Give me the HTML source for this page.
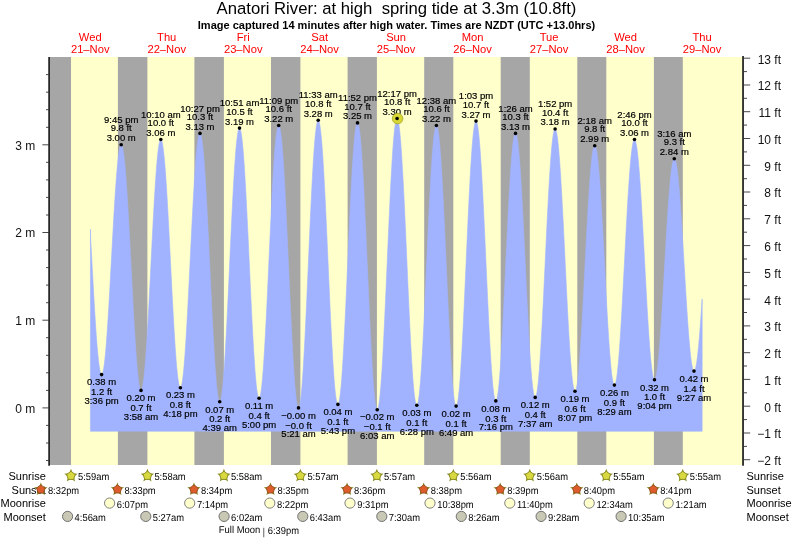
<!DOCTYPE html><html><head><meta charset="utf-8"><title>Tide</title>
<style>html,body{margin:0;padding:0;background:#fff;}svg{display:block;}text{font-family:"Liberation Sans",sans-serif;}</style></head><body>
<svg width="793" height="539" viewBox="0 0 793 539">
<rect x="0" y="0" width="793" height="539" fill="#ffffff"/>
<defs><filter id="idf" x="0" y="0" width="793" height="539" filterUnits="userSpaceOnUse" color-interpolation-filters="sRGB"><feOffset dx="0" dy="0"/></filter></defs>
<g filter="url(#idf)">
<rect x="50" y="57" width="692.5" height="408" fill="#a6a6a6"/>
<rect x="71.0" y="57" width="46.9" height="408" fill="#ffffcc"/>
<rect x="147.4" y="57" width="47.0" height="408" fill="#ffffcc"/>
<rect x="223.9" y="57" width="47.1" height="408" fill="#ffffcc"/>
<rect x="300.4" y="57" width="47.2" height="408" fill="#ffffcc"/>
<rect x="376.9" y="57" width="47.3" height="408" fill="#ffffcc"/>
<rect x="453.3" y="57" width="47.4" height="408" fill="#ffffcc"/>
<rect x="529.8" y="57" width="47.5" height="408" fill="#ffffcc"/>
<rect x="606.3" y="57" width="47.6" height="408" fill="#ffffcc"/>
<rect x="682.8" y="57" width="59.7" height="408" fill="#ffffcc"/>
<path d="M90.45,431.2 L90.45,229.27 L90.59,237.22 L91.02,245.26 L91.46,253.35 L91.90,261.46 L92.34,269.54 L92.77,277.57 L93.21,285.49 L93.65,293.28 L94.08,300.90 L94.52,308.30 L94.96,315.47 L95.40,322.35 L95.83,328.92 L96.27,335.15 L96.71,341.01 L97.14,346.48 L97.58,351.51 L98.02,356.10 L98.46,360.22 L98.89,363.85 L99.33,366.97 L99.77,369.57 L100.20,371.64 L100.64,373.17 L101.08,374.14 L101.52,374.56 L101.95,374.42 L102.39,373.71 L102.83,372.45 L103.26,370.63 L103.70,368.27 L104.14,365.38 L104.58,361.97 L105.01,358.05 L105.45,353.66 L105.89,348.80 L106.32,343.50 L106.76,337.80 L107.20,331.71 L107.64,325.27 L108.07,318.50 L108.51,311.45 L108.95,304.15 L109.38,296.62 L109.82,288.92 L110.26,281.07 L110.70,273.11 L111.13,265.09 L111.57,257.05 L112.01,249.01 L112.44,241.03 L112.88,233.14 L113.32,225.38 L113.76,217.79 L114.19,210.41 L114.63,203.26 L115.07,196.40 L115.50,189.84 L115.94,183.63 L116.38,177.79 L116.82,172.35 L117.25,167.34 L117.69,162.78 L118.13,158.70 L118.56,155.11 L119.00,152.04 L119.44,149.49 L119.88,147.49 L120.31,146.03 L120.75,145.14 L121.19,144.80 L121.62,145.04 L122.06,145.87 L122.50,147.28 L122.94,149.27 L123.37,151.83 L123.81,154.94 L124.25,158.60 L124.68,162.78 L125.12,167.46 L125.56,172.62 L126.00,178.24 L126.43,184.28 L126.87,190.73 L127.31,197.54 L127.74,204.70 L128.18,212.15 L128.62,219.87 L129.06,227.82 L129.49,235.96 L129.93,244.25 L130.37,252.65 L130.80,261.13 L131.24,269.63 L131.68,278.13 L132.12,286.58 L132.55,294.93 L132.99,303.15 L133.43,311.21 L133.86,319.05 L134.30,326.64 L134.74,333.96 L135.18,340.95 L135.61,347.59 L136.05,353.85 L136.49,359.69 L136.92,365.09 L137.36,370.02 L137.80,374.47 L138.24,378.39 L138.67,381.79 L139.11,384.63 L139.55,386.92 L139.98,388.63 L140.42,389.76 L140.86,390.31 L141.30,390.26 L141.73,389.61 L142.17,388.36 L142.61,386.51 L143.04,384.07 L143.48,381.06 L143.92,377.49 L144.36,373.38 L144.79,368.74 L145.23,363.60 L145.67,357.99 L146.10,351.92 L146.54,345.44 L146.98,338.57 L147.42,331.34 L147.85,323.79 L148.29,315.96 L148.73,307.88 L149.16,299.59 L149.60,291.14 L150.04,282.56 L150.48,273.90 L150.91,265.19 L151.35,256.48 L151.79,247.81 L152.22,239.23 L152.66,230.77 L153.10,222.47 L153.54,214.38 L153.97,206.54 L154.41,198.97 L154.85,191.72 L155.28,184.83 L155.72,178.33 L156.16,172.24 L156.60,166.60 L157.03,161.43 L157.47,156.77 L157.91,152.62 L158.34,149.02 L158.78,145.98 L159.22,143.51 L159.66,141.63 L160.09,140.34 L160.53,139.66 L160.97,139.58 L161.40,140.11 L161.84,141.25 L162.28,143.00 L162.72,145.33 L163.15,148.26 L163.59,151.75 L164.03,155.79 L164.46,160.37 L164.90,165.45 L165.34,171.02 L165.78,177.05 L166.21,183.50 L166.65,190.35 L167.09,197.56 L167.52,205.10 L167.96,212.92 L168.40,220.99 L168.84,229.28 L169.27,237.73 L169.71,246.32 L170.15,254.98 L170.58,263.69 L171.02,272.40 L171.46,281.07 L171.90,289.65 L172.33,298.10 L172.77,306.39 L173.21,314.46 L173.64,322.28 L174.08,329.81 L174.52,337.02 L174.96,343.86 L175.39,350.31 L175.83,356.33 L176.27,361.89 L176.70,366.97 L177.14,371.53 L177.58,375.57 L178.02,379.05 L178.45,381.97 L178.89,384.30 L179.33,386.04 L179.76,387.17 L180.20,387.69 L180.64,387.60 L181.08,386.88 L181.51,385.55 L181.95,383.60 L182.39,381.05 L182.82,377.91 L183.26,374.19 L183.70,369.92 L184.14,365.11 L184.57,359.78 L185.01,353.97 L185.45,347.70 L185.88,341.01 L186.32,333.91 L186.76,326.46 L187.20,318.69 L187.63,310.63 L188.07,302.32 L188.51,293.81 L188.94,285.14 L189.38,276.35 L189.82,267.47 L190.26,258.57 L190.69,249.67 L191.13,240.83 L191.57,232.09 L192.00,223.48 L192.44,215.06 L192.88,206.86 L193.32,198.92 L193.75,191.29 L194.19,183.99 L194.63,177.07 L195.06,170.56 L195.50,164.50 L195.94,158.90 L196.38,153.80 L196.81,149.23 L197.25,145.20 L197.69,141.74 L198.12,138.86 L198.56,136.58 L199.00,134.90 L199.44,133.85 L199.87,133.41 L200.31,133.61 L200.75,134.45 L201.18,135.93 L201.62,138.06 L202.06,140.80 L202.50,144.16 L202.93,148.11 L203.37,152.64 L203.81,157.73 L204.24,163.34 L204.68,169.46 L205.12,176.05 L205.56,183.09 L205.99,190.53 L206.43,198.34 L206.87,206.49 L207.30,214.93 L207.74,223.63 L208.18,232.54 L208.62,241.62 L209.05,250.82 L209.49,260.10 L209.93,269.43 L210.36,278.74 L210.80,287.99 L211.24,297.15 L211.68,306.17 L212.11,315.00 L212.55,323.60 L212.99,331.93 L213.42,339.95 L213.86,347.62 L214.30,354.91 L214.74,361.77 L215.17,368.18 L215.61,374.10 L216.05,379.51 L216.48,384.38 L216.92,388.68 L217.36,392.40 L217.80,395.52 L218.23,398.02 L218.67,399.89 L219.11,401.12 L219.54,401.71 L219.98,401.64 L220.42,400.92 L220.86,399.54 L221.29,397.52 L221.73,394.85 L222.17,391.55 L222.60,387.65 L223.04,383.15 L223.48,378.08 L223.92,372.47 L224.35,366.33 L224.79,359.71 L225.23,352.63 L225.66,345.12 L226.10,337.23 L226.54,328.99 L226.98,320.44 L227.41,311.63 L227.85,302.59 L228.29,293.36 L228.72,284.00 L229.16,274.55 L229.60,265.05 L230.04,255.55 L230.47,246.09 L230.91,236.73 L231.35,227.50 L231.78,218.46 L232.22,209.63 L232.66,201.08 L233.10,192.83 L233.53,184.93 L233.97,177.42 L234.41,170.33 L234.84,163.70 L235.28,157.55 L235.72,151.93 L236.16,146.85 L236.59,142.34 L237.03,138.42 L237.47,135.11 L237.90,132.43 L238.34,130.39 L238.78,129.00 L239.22,128.26 L239.65,128.19 L240.09,128.77 L240.53,130.02 L240.96,131.92 L241.40,134.46 L241.84,137.64 L242.28,141.43 L242.71,145.81 L243.15,150.78 L243.59,156.29 L244.02,162.33 L244.46,168.87 L244.90,175.87 L245.34,183.29 L245.77,191.11 L246.21,199.28 L246.65,207.77 L247.08,216.52 L247.52,225.51 L247.96,234.68 L248.40,243.99 L248.83,253.40 L249.27,262.85 L249.71,272.30 L250.14,281.71 L250.58,291.03 L251.02,300.22 L251.46,309.22 L251.89,317.99 L252.33,326.50 L252.77,334.70 L253.20,342.54 L253.64,350.00 L254.08,357.03 L254.52,363.60 L254.95,369.67 L255.39,375.23 L255.83,380.23 L256.26,384.66 L256.70,388.50 L257.14,391.72 L257.58,394.31 L258.01,396.26 L258.45,397.55 L258.89,398.18 L259.32,398.15 L259.76,397.46 L260.20,396.10 L260.64,394.08 L261.07,391.41 L261.51,388.10 L261.95,384.18 L262.38,379.66 L262.82,374.56 L263.26,368.90 L263.70,362.72 L264.13,356.05 L264.57,348.91 L265.01,341.35 L265.44,333.40 L265.88,325.10 L266.32,316.48 L266.76,307.60 L267.19,298.50 L267.63,289.21 L268.07,279.79 L268.50,270.28 L268.94,260.74 L269.38,251.19 L269.82,241.70 L270.25,232.31 L270.69,223.06 L271.13,214.01 L271.56,205.19 L272.00,196.64 L272.44,188.42 L272.88,180.56 L273.31,173.09 L273.75,166.07 L274.19,159.51 L274.62,153.45 L275.06,147.93 L275.50,142.96 L275.94,138.58 L276.37,134.81 L276.81,131.65 L277.25,129.14 L277.68,127.28 L278.12,126.07 L278.56,125.54 L279.00,125.67 L279.43,126.49 L279.87,127.98 L280.31,130.14 L280.74,132.96 L281.18,136.43 L281.62,140.53 L282.06,145.23 L282.49,150.52 L282.93,156.37 L283.37,162.76 L283.80,169.65 L284.24,177.00 L284.68,184.79 L285.12,192.97 L285.55,201.51 L285.99,210.36 L286.43,219.49 L286.86,228.84 L287.30,238.38 L287.74,248.05 L288.18,257.82 L288.61,267.62 L289.05,277.42 L289.49,287.17 L289.92,296.83 L290.36,306.33 L290.80,315.65 L291.24,324.72 L291.67,333.52 L292.11,342.00 L292.55,350.11 L292.98,357.82 L293.42,365.09 L293.86,371.88 L294.30,378.17 L294.73,383.92 L295.17,389.10 L295.61,393.69 L296.04,397.67 L296.48,401.02 L296.92,403.72 L297.36,405.76 L297.79,407.12 L298.23,407.81 L298.67,407.82 L299.10,407.13 L299.54,405.75 L299.98,403.69 L300.42,400.96 L300.85,397.56 L301.29,393.52 L301.73,388.86 L302.16,383.59 L302.60,377.74 L303.04,371.35 L303.48,364.44 L303.91,357.04 L304.35,349.20 L304.79,340.95 L305.22,332.32 L305.66,323.36 L306.10,314.12 L306.54,304.64 L306.97,294.96 L307.41,285.13 L307.85,275.20 L308.28,265.22 L308.72,255.23 L309.16,245.28 L309.60,235.43 L310.03,225.71 L310.47,216.18 L310.91,206.87 L311.34,197.85 L311.78,189.14 L312.22,180.80 L312.66,172.86 L313.09,165.36 L313.53,158.33 L313.97,151.82 L314.40,145.85 L314.84,140.44 L315.28,135.64 L315.72,131.45 L316.15,127.91 L316.59,125.02 L317.03,122.80 L317.46,121.27 L317.90,120.42 L318.34,120.27 L318.78,120.81 L319.21,122.04 L319.65,123.96 L320.09,126.55 L320.52,129.81 L320.96,133.71 L321.40,138.23 L321.84,143.37 L322.27,149.08 L322.71,155.35 L323.15,162.14 L323.58,169.41 L324.02,177.14 L324.46,185.29 L324.90,193.81 L325.33,202.67 L325.77,211.82 L326.21,221.21 L326.64,230.80 L327.08,240.55 L327.52,250.41 L327.96,260.32 L328.39,270.24 L328.83,280.12 L329.27,289.92 L329.70,299.58 L330.14,309.06 L330.58,318.32 L331.02,327.29 L331.45,335.96 L331.89,344.26 L332.33,352.16 L332.76,359.62 L333.20,366.61 L333.64,373.09 L334.08,379.03 L334.51,384.40 L334.95,389.18 L335.39,393.34 L335.82,396.85 L336.26,399.71 L336.70,401.90 L337.14,403.41 L337.57,404.23 L338.01,404.36 L338.45,403.79 L338.88,402.54 L339.32,400.61 L339.76,398.01 L340.20,394.74 L340.63,390.84 L341.07,386.31 L341.51,381.17 L341.94,375.46 L342.38,369.21 L342.82,362.43 L343.26,355.17 L343.69,347.46 L344.13,339.34 L344.57,330.85 L345.00,322.02 L345.44,312.92 L345.88,303.57 L346.32,294.02 L346.75,284.32 L347.19,274.53 L347.63,264.68 L348.06,254.82 L348.50,245.01 L348.94,235.29 L349.38,225.71 L349.81,216.31 L350.25,207.15 L350.69,198.26 L351.12,189.70 L351.56,181.49 L352.00,173.69 L352.44,166.34 L352.87,159.45 L353.31,153.08 L353.75,147.26 L354.18,142.00 L354.62,137.34 L355.06,133.30 L355.50,129.90 L355.93,127.15 L356.37,125.08 L356.81,123.68 L357.24,122.97 L357.68,122.95 L358.12,123.63 L358.56,125.00 L358.99,127.05 L359.43,129.78 L359.87,133.17 L360.30,137.21 L360.74,141.88 L361.18,147.14 L361.62,152.99 L362.05,159.38 L362.49,166.30 L362.93,173.70 L363.36,181.55 L363.80,189.81 L364.24,198.44 L364.68,207.40 L365.11,216.65 L365.55,226.13 L365.99,235.81 L366.42,245.64 L366.86,255.57 L367.30,265.55 L367.74,275.54 L368.17,285.48 L368.61,295.32 L369.05,305.03 L369.48,314.55 L369.92,323.83 L370.36,332.83 L370.80,341.51 L371.23,349.83 L371.67,357.74 L372.11,365.21 L372.54,372.19 L372.98,378.66 L373.42,384.59 L373.86,389.94 L374.29,394.69 L374.73,398.82 L375.17,402.31 L375.60,405.13 L376.04,407.28 L376.48,408.75 L376.92,409.52 L377.35,409.60 L377.79,408.99 L378.23,407.68 L378.66,405.69 L379.10,403.02 L379.54,399.68 L379.98,395.70 L380.41,391.09 L380.85,385.88 L381.29,380.08 L381.72,373.73 L382.16,366.85 L382.60,359.49 L383.04,351.67 L383.47,343.43 L383.91,334.81 L384.35,325.85 L384.78,316.60 L385.22,307.09 L385.66,297.39 L386.10,287.52 L386.53,277.54 L386.97,267.50 L387.41,257.44 L387.84,247.41 L388.28,237.46 L388.72,227.64 L389.16,217.99 L389.59,208.56 L390.03,199.40 L390.47,190.55 L390.90,182.04 L391.34,173.93 L391.78,166.25 L392.22,159.04 L392.65,152.33 L393.09,146.15 L393.53,140.54 L393.96,135.51 L394.40,131.10 L394.84,127.32 L395.28,124.20 L395.71,121.75 L396.15,119.97 L396.59,118.88 L397.02,118.49 L397.46,118.79 L397.90,119.79 L398.34,121.48 L398.77,123.84 L399.21,126.88 L399.65,130.57 L400.08,134.90 L400.52,139.85 L400.96,145.39 L401.40,151.49 L401.83,158.13 L402.27,165.27 L402.71,172.89 L403.14,180.93 L403.58,189.37 L404.02,198.15 L404.46,207.25 L404.89,216.61 L405.33,226.20 L405.77,235.95 L406.20,245.83 L406.64,255.79 L407.08,265.78 L407.52,275.75 L407.95,285.65 L408.39,295.44 L408.83,305.07 L409.26,314.48 L409.70,323.64 L410.14,332.50 L410.58,341.02 L411.01,349.15 L411.45,356.86 L411.89,364.11 L412.32,370.86 L412.76,377.08 L413.20,382.75 L413.64,387.83 L414.07,392.29 L414.51,396.13 L414.95,399.31 L415.38,401.82 L415.82,403.66 L416.26,404.81 L416.70,405.26 L417.13,405.02 L417.57,404.11 L418.01,402.51 L418.44,400.25 L418.88,397.32 L419.32,393.76 L419.76,389.57 L420.19,384.77 L420.63,379.39 L421.07,373.45 L421.50,366.98 L421.94,360.02 L422.38,352.60 L422.82,344.75 L423.25,336.52 L423.69,327.94 L424.13,319.05 L424.56,309.90 L425.00,300.54 L425.44,291.00 L425.88,281.34 L426.31,271.60 L426.75,261.82 L427.19,252.07 L427.62,242.38 L428.06,232.81 L428.50,223.39 L428.94,214.18 L429.37,205.22 L429.81,196.55 L430.25,188.21 L430.68,180.26 L431.12,172.72 L431.56,165.63 L432.00,159.03 L432.43,152.94 L432.87,147.41 L433.31,142.45 L433.74,138.09 L434.18,134.35 L434.62,131.26 L435.06,128.81 L435.49,127.03 L435.93,125.93 L436.37,125.51 L436.80,125.77 L437.24,126.71 L437.68,128.33 L438.12,130.61 L438.55,133.55 L438.99,137.13 L439.43,141.33 L439.86,146.14 L440.30,151.53 L440.74,157.48 L441.18,163.95 L441.61,170.91 L442.05,178.34 L442.49,186.19 L442.92,194.43 L443.36,203.01 L443.80,211.90 L444.24,221.05 L444.67,230.41 L445.11,239.95 L445.55,249.62 L445.98,259.36 L446.42,269.14 L446.86,278.89 L447.30,288.59 L447.73,298.17 L448.17,307.60 L448.61,316.83 L449.04,325.80 L449.48,334.49 L449.92,342.84 L450.36,350.82 L450.79,358.39 L451.23,365.51 L451.67,372.14 L452.10,378.26 L452.54,383.83 L452.98,388.83 L453.42,393.23 L453.85,397.02 L454.29,400.17 L454.73,402.66 L455.16,404.49 L455.60,405.65 L456.04,406.13 L456.48,405.93 L456.91,405.05 L457.35,403.49 L457.79,401.27 L458.22,398.39 L458.66,394.87 L459.10,390.71 L459.54,385.96 L459.97,380.61 L460.41,374.71 L460.85,368.28 L461.28,361.35 L461.72,353.95 L462.16,346.12 L462.60,337.90 L463.03,329.32 L463.47,320.43 L463.91,311.27 L464.34,301.88 L464.78,292.30 L465.22,282.59 L465.66,272.79 L466.09,262.95 L466.53,253.11 L466.97,243.32 L467.40,233.62 L467.84,224.07 L468.28,214.71 L468.72,205.59 L469.15,196.73 L469.59,188.20 L470.03,180.03 L470.46,172.26 L470.90,164.93 L471.34,158.06 L471.78,151.70 L472.21,145.88 L472.65,140.62 L473.09,135.94 L473.52,131.87 L473.96,128.44 L474.40,125.65 L474.84,123.52 L475.27,122.05 L475.71,121.27 L476.15,121.16 L476.58,121.73 L477.02,122.96 L477.46,124.86 L477.90,127.41 L478.33,130.60 L478.77,134.42 L479.21,138.85 L479.64,143.86 L480.08,149.44 L480.52,155.55 L480.96,162.17 L481.39,169.26 L481.83,176.79 L482.27,184.73 L482.70,193.03 L483.14,201.66 L483.58,210.58 L484.02,219.73 L484.45,229.09 L484.89,238.60 L485.33,248.21 L485.76,257.89 L486.20,267.58 L486.64,277.24 L487.08,286.82 L487.51,296.28 L487.95,305.57 L488.39,314.65 L488.82,323.46 L489.26,331.98 L489.70,340.16 L490.14,347.95 L490.57,355.33 L491.01,362.26 L491.45,368.70 L491.88,374.62 L492.32,380.00 L492.76,384.81 L493.20,389.02 L493.63,392.61 L494.07,395.58 L494.51,397.90 L494.94,399.56 L495.38,400.56 L495.82,400.88 L496.26,400.55 L496.69,399.56 L497.13,397.93 L497.57,395.66 L498.00,392.76 L498.44,389.25 L498.88,385.14 L499.32,380.46 L499.75,375.23 L500.19,369.46 L500.63,363.20 L501.06,356.47 L501.50,349.31 L501.94,341.74 L502.38,333.81 L502.81,325.55 L503.25,317.01 L503.69,308.22 L504.12,299.24 L504.56,290.10 L505.00,280.84 L505.44,271.52 L505.87,262.18 L506.31,252.86 L506.75,243.61 L507.18,234.48 L507.62,225.50 L508.06,216.73 L508.50,208.21 L508.93,199.97 L509.37,192.06 L509.81,184.52 L510.24,177.38 L510.68,170.68 L511.12,164.44 L511.56,158.71 L511.99,153.51 L512.43,148.86 L512.87,144.80 L513.30,141.32 L513.74,138.46 L514.18,136.23 L514.62,134.64 L515.05,133.69 L515.49,133.40 L515.93,133.75 L516.36,134.74 L516.80,136.37 L517.24,138.62 L517.68,141.48 L518.11,144.95 L518.55,149.00 L518.99,153.62 L519.42,158.78 L519.86,164.45 L520.30,170.62 L520.74,177.24 L521.17,184.30 L521.61,191.75 L522.05,199.55 L522.48,207.67 L522.92,216.08 L523.36,224.72 L523.80,233.56 L524.23,242.56 L524.67,251.67 L525.11,260.84 L525.54,270.03 L525.98,279.21 L526.42,288.31 L526.86,297.30 L527.29,306.14 L527.73,314.79 L528.17,323.19 L528.60,331.31 L529.04,339.11 L529.48,346.55 L529.92,353.60 L530.35,360.22 L530.79,366.38 L531.23,372.06 L531.66,377.21 L532.10,381.82 L532.54,385.87 L532.98,389.33 L533.41,392.19 L533.85,394.43 L534.29,396.05 L534.72,397.03 L535.16,397.38 L535.60,397.08 L536.04,396.15 L536.47,394.59 L536.91,392.40 L537.35,389.60 L537.78,386.20 L538.22,382.22 L538.66,377.67 L539.10,372.57 L539.53,366.96 L539.97,360.85 L540.41,354.28 L540.84,347.28 L541.28,339.88 L541.72,332.11 L542.16,324.02 L542.59,315.64 L543.03,307.00 L543.47,298.16 L543.90,289.16 L544.34,280.03 L544.78,270.82 L545.22,261.57 L545.65,252.34 L546.09,243.15 L546.53,234.06 L546.96,225.10 L547.40,216.33 L547.84,207.78 L548.28,199.50 L548.71,191.51 L549.15,183.87 L549.59,176.61 L550.02,169.75 L550.46,163.34 L550.90,157.40 L551.34,151.97 L551.77,147.06 L552.21,142.71 L552.65,138.93 L553.08,135.74 L553.52,133.15 L553.96,131.18 L554.40,129.84 L554.83,129.13 L555.27,129.06 L555.71,129.61 L556.14,130.79 L556.58,132.58 L557.02,134.97 L557.46,137.96 L557.89,141.53 L558.33,145.66 L558.77,150.33 L559.20,155.53 L559.64,161.22 L560.08,167.39 L560.52,173.99 L560.95,181.01 L561.39,188.39 L561.83,196.12 L562.26,204.16 L562.70,212.46 L563.14,220.99 L563.58,229.70 L564.01,238.55 L564.45,247.51 L564.89,256.53 L565.32,265.57 L565.76,274.58 L566.20,283.52 L566.64,292.35 L567.07,301.03 L567.51,309.51 L567.95,317.76 L568.38,325.74 L568.82,333.40 L569.26,340.71 L569.70,347.65 L570.13,354.16 L570.57,360.23 L571.01,365.83 L571.44,370.92 L571.88,375.48 L572.32,379.50 L572.76,382.95 L573.19,385.82 L573.63,388.09 L574.07,389.75 L574.50,390.80 L574.94,391.23 L575.38,391.04 L575.82,390.26 L576.25,388.88 L576.69,386.92 L577.13,384.39 L577.56,381.29 L578.00,377.65 L578.44,373.47 L578.88,368.79 L579.31,363.62 L579.75,357.99 L580.19,351.92 L580.62,345.45 L581.06,338.60 L581.50,331.42 L581.94,323.93 L582.37,316.17 L582.81,308.17 L583.25,299.99 L583.68,291.65 L584.12,283.20 L584.56,274.68 L585.00,266.13 L585.43,257.58 L585.87,249.10 L586.31,240.70 L586.74,232.44 L587.18,224.36 L587.62,216.49 L588.06,208.87 L588.49,201.54 L588.93,194.53 L589.37,187.89 L589.80,181.63 L590.24,175.80 L590.68,170.42 L591.12,165.51 L591.55,161.10 L591.99,157.21 L592.43,153.86 L592.86,151.07 L593.30,148.85 L593.74,147.21 L594.18,146.16 L594.61,145.70 L595.05,145.83 L595.49,146.54 L595.92,147.84 L596.36,149.70 L596.80,152.12 L597.24,155.09 L597.67,158.60 L598.11,162.62 L598.55,167.15 L598.98,172.15 L599.42,177.60 L599.86,183.48 L600.30,189.76 L600.73,196.40 L601.17,203.38 L601.61,210.66 L602.04,218.21 L602.48,225.98 L602.92,233.95 L603.36,242.06 L603.79,250.29 L604.23,258.60 L604.67,266.94 L605.10,275.27 L605.54,283.55 L605.98,291.74 L606.42,299.81 L606.85,307.71 L607.29,315.40 L607.73,322.85 L608.16,330.02 L608.60,336.88 L609.04,343.39 L609.48,349.53 L609.91,355.25 L610.35,360.54 L610.79,365.37 L611.22,369.71 L611.66,373.54 L612.10,376.85 L612.54,379.62 L612.97,381.84 L613.41,383.49 L613.85,384.56 L614.28,385.06 L614.72,384.98 L615.16,384.32 L615.60,383.09 L616.03,381.29 L616.47,378.93 L616.91,376.02 L617.34,372.58 L617.78,368.62 L618.22,364.16 L618.66,359.22 L619.09,353.83 L619.53,348.01 L619.97,341.78 L620.40,335.18 L620.84,328.24 L621.28,320.99 L621.72,313.46 L622.15,305.69 L622.59,297.72 L623.03,289.58 L623.46,281.32 L623.90,272.96 L624.34,264.55 L624.78,256.14 L625.21,247.75 L625.65,239.43 L626.09,231.22 L626.52,223.16 L626.96,215.27 L627.40,207.61 L627.84,200.21 L628.27,193.10 L628.71,186.32 L629.15,179.89 L629.58,173.85 L630.02,168.22 L630.46,163.04 L630.90,158.32 L631.33,154.09 L631.77,150.38 L632.21,147.18 L632.64,144.53 L633.08,142.43 L633.52,140.90 L633.96,139.94 L634.39,139.55 L634.83,139.73 L635.27,140.47 L635.70,141.78 L636.14,143.63 L636.58,146.02 L637.02,148.95 L637.45,152.39 L637.89,156.34 L638.33,160.77 L638.76,165.66 L639.20,170.99 L639.64,176.74 L640.08,182.87 L640.51,189.37 L640.95,196.19 L641.39,203.31 L641.82,210.69 L642.26,218.30 L642.70,226.10 L643.14,234.07 L643.57,242.15 L644.01,250.31 L644.45,258.52 L644.88,266.73 L645.32,274.91 L645.76,283.02 L646.20,291.02 L646.63,298.87 L647.07,306.54 L647.51,313.99 L647.94,321.19 L648.38,328.10 L648.82,334.69 L649.26,340.93 L649.69,346.79 L650.13,352.24 L650.57,357.26 L651.00,361.82 L651.44,365.91 L651.88,369.49 L652.32,372.57 L652.75,375.12 L653.19,377.13 L653.63,378.59 L654.06,379.49 L654.50,379.83 L654.94,379.63 L655.38,378.89 L655.81,377.62 L656.25,375.83 L656.69,373.52 L657.12,370.71 L657.56,367.41 L658.00,363.64 L658.44,359.42 L658.87,354.76 L659.31,349.68 L659.75,344.22 L660.18,338.40 L660.62,332.24 L661.06,325.78 L661.50,319.05 L661.93,312.08 L662.37,304.90 L662.81,297.55 L663.24,290.06 L663.68,282.47 L664.12,274.82 L664.56,267.15 L664.99,259.48 L665.43,251.86 L665.87,244.33 L666.30,236.92 L666.74,229.66 L667.18,222.59 L667.62,215.75 L668.05,209.17 L668.49,202.88 L668.93,196.91 L669.36,191.29 L669.80,186.05 L670.24,181.21 L670.68,176.79 L671.11,172.82 L671.55,169.32 L671.99,166.30 L672.42,163.77 L672.86,161.76 L673.30,160.26 L673.74,159.30 L674.17,158.86 L674.61,158.95 L675.05,159.56 L675.48,160.68 L675.92,162.30 L676.36,164.43 L676.80,167.04 L677.23,170.12 L677.67,173.67 L678.11,177.66 L678.54,182.07 L678.98,186.89 L679.42,192.08 L679.86,197.63 L680.29,203.50 L680.73,209.68 L681.17,216.12 L681.60,222.79 L682.04,229.68 L682.48,236.73 L682.92,243.92 L683.35,251.21 L683.79,258.57 L684.23,265.96 L684.66,273.35 L685.10,280.69 L685.54,287.96 L685.98,295.12 L686.41,302.13 L686.85,308.96 L687.29,315.57 L687.72,321.94 L688.16,328.04 L688.60,333.82 L689.04,339.28 L689.47,344.37 L689.91,349.08 L690.35,353.38 L690.78,357.25 L691.22,360.67 L691.66,363.63 L692.10,366.10 L692.53,368.09 L692.97,369.58 L693.41,370.56 L693.84,371.02 L694.28,370.98 L694.72,370.46 L695.16,369.46 L695.59,368.00 L696.03,366.07 L696.47,363.68 L696.90,360.85 L697.34,357.60 L697.78,353.92 L698.22,349.85 L698.65,345.40 L699.09,340.60 L699.53,335.46 L699.96,330.00 L700.40,324.27 L700.84,318.27 L701.28,312.04 L701.71,305.61 L702.15,299.01 L702.15,431.2 Z" fill="#a1b3ff" stroke="#a1b3ff" stroke-width="0.6" stroke-linejoin="round"/>
<g stroke="#000" stroke-width="1.5">
<line x1="49.1" y1="57" x2="49.1" y2="465.7"/>
<line x1="743.05" y1="56" x2="743.05" y2="465.7"/>
</g>
<g stroke="#333" stroke-width="0.9">
<line x1="46" y1="460.5" x2="49" y2="460.5"/>
<line x1="46" y1="443.0" x2="49" y2="443.0"/>
<line x1="46" y1="425.4" x2="49" y2="425.4"/>
<line x1="42.4" y1="407.9" x2="49" y2="407.9"/>
<line x1="46" y1="390.4" x2="49" y2="390.4"/>
<line x1="46" y1="372.8" x2="49" y2="372.8"/>
<line x1="46" y1="355.3" x2="49" y2="355.3"/>
<line x1="46" y1="337.7" x2="49" y2="337.7"/>
<line x1="42.4" y1="320.2" x2="49" y2="320.2"/>
<line x1="46" y1="302.7" x2="49" y2="302.7"/>
<line x1="46" y1="285.1" x2="49" y2="285.1"/>
<line x1="46" y1="267.6" x2="49" y2="267.6"/>
<line x1="46" y1="250.0" x2="49" y2="250.0"/>
<line x1="42.4" y1="232.5" x2="49" y2="232.5"/>
<line x1="46" y1="215.0" x2="49" y2="215.0"/>
<line x1="46" y1="197.4" x2="49" y2="197.4"/>
<line x1="46" y1="179.9" x2="49" y2="179.9"/>
<line x1="46" y1="162.3" x2="49" y2="162.3"/>
<line x1="42.4" y1="144.8" x2="49" y2="144.8"/>
<line x1="46" y1="127.3" x2="49" y2="127.3"/>
<line x1="46" y1="109.7" x2="49" y2="109.7"/>
<line x1="46" y1="92.2" x2="49" y2="92.2"/>
<line x1="46" y1="74.6" x2="49" y2="74.6"/>
<line x1="743.5" y1="459.7" x2="750.2" y2="459.7"/>
<line x1="743.5" y1="446.4" x2="747" y2="446.4"/>
<line x1="743.5" y1="433.0" x2="750.2" y2="433.0"/>
<line x1="743.5" y1="419.6" x2="747" y2="419.6"/>
<line x1="743.5" y1="406.2" x2="750.2" y2="406.2"/>
<line x1="743.5" y1="392.8" x2="747" y2="392.8"/>
<line x1="743.5" y1="379.4" x2="750.2" y2="379.4"/>
<line x1="743.5" y1="366.0" x2="747" y2="366.0"/>
<line x1="743.5" y1="352.7" x2="750.2" y2="352.7"/>
<line x1="743.5" y1="339.3" x2="747" y2="339.3"/>
<line x1="743.5" y1="325.9" x2="750.2" y2="325.9"/>
<line x1="743.5" y1="312.5" x2="747" y2="312.5"/>
<line x1="743.5" y1="299.1" x2="750.2" y2="299.1"/>
<line x1="743.5" y1="285.7" x2="747" y2="285.7"/>
<line x1="743.5" y1="272.4" x2="750.2" y2="272.4"/>
<line x1="743.5" y1="259.0" x2="747" y2="259.0"/>
<line x1="743.5" y1="245.6" x2="750.2" y2="245.6"/>
<line x1="743.5" y1="232.2" x2="747" y2="232.2"/>
<line x1="743.5" y1="218.8" x2="750.2" y2="218.8"/>
<line x1="743.5" y1="205.4" x2="747" y2="205.4"/>
<line x1="743.5" y1="192.0" x2="750.2" y2="192.0"/>
<line x1="743.5" y1="178.7" x2="747" y2="178.7"/>
<line x1="743.5" y1="165.3" x2="750.2" y2="165.3"/>
<line x1="743.5" y1="151.9" x2="747" y2="151.9"/>
<line x1="743.5" y1="138.5" x2="750.2" y2="138.5"/>
<line x1="743.5" y1="125.1" x2="747" y2="125.1"/>
<line x1="743.5" y1="111.7" x2="750.2" y2="111.7"/>
<line x1="743.5" y1="98.3" x2="747" y2="98.3"/>
<line x1="743.5" y1="85.0" x2="750.2" y2="85.0"/>
<line x1="743.5" y1="71.6" x2="747" y2="71.6"/>
<line x1="743.5" y1="58.2" x2="750.2" y2="58.2"/>
</g>
<g font-size="12" fill="#111">
<text x="35.2" y="412.7" text-anchor="end">0 m</text>
<text x="35.2" y="325.0" text-anchor="end">1 m</text>
<text x="35.2" y="237.3" text-anchor="end">2 m</text>
<text x="35.2" y="149.6" text-anchor="end">3 m</text>
<text x="781" y="465.1" text-anchor="end">−2 ft</text>
<text x="781" y="438.4" text-anchor="end">−1 ft</text>
<text x="781" y="411.6" text-anchor="end">0 ft</text>
<text x="781" y="384.8" text-anchor="end">1 ft</text>
<text x="781" y="358.1" text-anchor="end">2 ft</text>
<text x="781" y="331.3" text-anchor="end">3 ft</text>
<text x="781" y="304.5" text-anchor="end">4 ft</text>
<text x="781" y="277.8" text-anchor="end">5 ft</text>
<text x="781" y="251.0" text-anchor="end">6 ft</text>
<text x="781" y="224.2" text-anchor="end">7 ft</text>
<text x="781" y="197.4" text-anchor="end">8 ft</text>
<text x="781" y="170.7" text-anchor="end">9 ft</text>
<text x="781" y="143.9" text-anchor="end">10 ft</text>
<text x="781" y="117.1" text-anchor="end">11 ft</text>
<text x="781" y="90.4" text-anchor="end">12 ft</text>
<text x="781" y="63.6" text-anchor="end">13 ft</text>
</g>
<text x="396.5" y="14.2" font-size="16.7" text-anchor="middle" fill="#000" xml:space="preserve">Anatori River: at high  spring tide at 3.3m (10.8ft)</text>
<text x="396.5" y="28.8" font-size="11.02" font-weight="bold" text-anchor="middle" fill="#000">Image captured 14 minutes after high water. Times are NZDT (UTC +13.0hrs)</text>
<g font-size="11.5" fill="#ff0000" text-anchor="middle">
<text transform="translate(90.2,41.3) scale(0.975,1)">Wed</text>
<text transform="translate(90.2,52.8) scale(0.975,1)">21–Nov</text>
<text transform="translate(166.7,41.3) scale(0.975,1)">Thu</text>
<text transform="translate(166.7,52.8) scale(0.975,1)">22–Nov</text>
<text transform="translate(243.2,41.3) scale(0.975,1)">Fri</text>
<text transform="translate(243.2,52.8) scale(0.975,1)">23–Nov</text>
<text transform="translate(319.6,41.3) scale(0.975,1)">Sat</text>
<text transform="translate(319.6,52.8) scale(0.975,1)">24–Nov</text>
<text transform="translate(396.1,41.3) scale(0.975,1)">Sun</text>
<text transform="translate(396.1,52.8) scale(0.975,1)">25–Nov</text>
<text transform="translate(472.6,41.3) scale(0.975,1)">Mon</text>
<text transform="translate(472.6,52.8) scale(0.975,1)">26–Nov</text>
<text transform="translate(549.1,41.3) scale(0.975,1)">Tue</text>
<text transform="translate(549.1,52.8) scale(0.975,1)">27–Nov</text>
<text transform="translate(625.6,41.3) scale(0.975,1)">Wed</text>
<text transform="translate(625.6,52.8) scale(0.975,1)">28–Nov</text>
<text transform="translate(702.1,41.3) scale(0.975,1)">Thu</text>
<text transform="translate(702.1,52.8) scale(0.975,1)">29–Nov</text>
</g>
<g font-size="9.5" fill="#000" stroke="#000" stroke-width="0.18" text-anchor="middle">
<text transform="translate(121.2,123.0) scale(1.000,1)">9:45 pm</text>
<text transform="translate(121.2,131.4) scale(1.000,1)">9.8 ft</text>
<text transform="translate(121.2,141.2) scale(1.000,1)">3.00 m</text>
<text transform="translate(160.8,117.7) scale(1.000,1)">10:10 am</text>
<text transform="translate(160.8,126.1) scale(1.000,1)">10.0 ft</text>
<text transform="translate(160.8,135.9) scale(1.000,1)">3.06 m</text>
<text transform="translate(200.0,111.6) scale(1.000,1)">10:27 pm</text>
<text transform="translate(200.0,120.0) scale(1.000,1)">10.3 ft</text>
<text transform="translate(200.0,129.8) scale(1.000,1)">3.13 m</text>
<text transform="translate(239.5,106.3) scale(1.000,1)">10:51 am</text>
<text transform="translate(239.5,114.7) scale(1.000,1)">10.5 ft</text>
<text transform="translate(239.5,124.5) scale(1.000,1)">3.19 m</text>
<text transform="translate(278.7,103.7) scale(1.000,1)">11:09 pm</text>
<text transform="translate(278.7,112.1) scale(1.000,1)">10.6 ft</text>
<text transform="translate(278.7,121.9) scale(1.000,1)">3.22 m</text>
<text transform="translate(318.2,98.4) scale(1.000,1)">11:33 am</text>
<text transform="translate(318.2,106.8) scale(1.000,1)">10.8 ft</text>
<text transform="translate(318.2,116.6) scale(1.000,1)">3.28 m</text>
<text transform="translate(357.5,101.1) scale(1.000,1)">11:52 pm</text>
<text transform="translate(357.5,109.5) scale(1.000,1)">10.7 ft</text>
<text transform="translate(357.5,119.3) scale(1.000,1)">3.25 m</text>
<text transform="translate(397.1,96.7) scale(1.000,1)">12:17 pm</text>
<text transform="translate(397.1,105.1) scale(1.000,1)">10.8 ft</text>
<text transform="translate(397.1,114.9) scale(1.000,1)">3.30 m</text>
<text transform="translate(436.4,103.7) scale(1.000,1)">12:38 am</text>
<text transform="translate(436.4,112.1) scale(1.000,1)">10.6 ft</text>
<text transform="translate(436.4,121.9) scale(1.000,1)">3.22 m</text>
<text transform="translate(476.0,99.3) scale(1.000,1)">1:03 pm</text>
<text transform="translate(476.0,107.7) scale(1.000,1)">10.7 ft</text>
<text transform="translate(476.0,117.5) scale(1.000,1)">3.27 m</text>
<text transform="translate(515.5,111.6) scale(1.000,1)">1:26 am</text>
<text transform="translate(515.5,120.0) scale(1.000,1)">10.3 ft</text>
<text transform="translate(515.5,129.8) scale(1.000,1)">3.13 m</text>
<text transform="translate(555.1,107.2) scale(1.000,1)">1:52 pm</text>
<text transform="translate(555.1,115.6) scale(1.000,1)">10.4 ft</text>
<text transform="translate(555.1,125.4) scale(1.000,1)">3.18 m</text>
<text transform="translate(594.7,123.9) scale(1.000,1)">2:18 am</text>
<text transform="translate(594.7,132.3) scale(1.000,1)">9.8 ft</text>
<text transform="translate(594.7,142.1) scale(1.000,1)">2.99 m</text>
<text transform="translate(634.5,117.7) scale(1.000,1)">2:46 pm</text>
<text transform="translate(634.5,126.1) scale(1.000,1)">10.0 ft</text>
<text transform="translate(634.5,135.9) scale(1.000,1)">3.06 m</text>
<text transform="translate(674.3,137.0) scale(1.000,1)">3:16 am</text>
<text transform="translate(674.3,145.4) scale(1.000,1)">9.3 ft</text>
<text transform="translate(674.3,155.2) scale(1.000,1)">2.84 m</text>
<text transform="translate(101.6,385.3) scale(1.000,1)">0.38 m</text>
<text transform="translate(101.6,395.2) scale(1.000,1)">1.2 ft</text>
<text transform="translate(101.6,404.1) scale(1.000,1)">3:36 pm</text>
<text transform="translate(141.0,401.1) scale(1.000,1)">0.20 m</text>
<text transform="translate(141.0,411.0) scale(1.000,1)">0.7 ft</text>
<text transform="translate(141.0,419.9) scale(1.000,1)">3:58 am</text>
<text transform="translate(180.4,398.4) scale(1.000,1)">0.23 m</text>
<text transform="translate(180.4,408.3) scale(1.000,1)">0.8 ft</text>
<text transform="translate(180.4,417.2) scale(1.000,1)">4:18 pm</text>
<text transform="translate(219.7,412.5) scale(1.000,1)">0.07 m</text>
<text transform="translate(219.7,422.4) scale(1.000,1)">0.2 ft</text>
<text transform="translate(219.7,431.3) scale(1.000,1)">4:39 am</text>
<text transform="translate(259.1,409.0) scale(1.000,1)">0.11 m</text>
<text transform="translate(259.1,418.9) scale(1.000,1)">0.4 ft</text>
<text transform="translate(259.1,427.8) scale(1.000,1)">5:00 pm</text>
<text transform="translate(298.5,418.6) scale(1.000,1)">−0.00 m</text>
<text transform="translate(298.5,428.5) scale(1.000,1)">−0.0 ft</text>
<text transform="translate(298.5,437.4) scale(1.000,1)">5:21 am</text>
<text transform="translate(337.9,415.1) scale(1.000,1)">0.04 m</text>
<text transform="translate(337.9,425.0) scale(1.000,1)">0.1 ft</text>
<text transform="translate(337.9,433.9) scale(1.000,1)">5:43 pm</text>
<text transform="translate(377.2,420.4) scale(1.000,1)">−0.02 m</text>
<text transform="translate(377.2,430.3) scale(1.000,1)">−0.1 ft</text>
<text transform="translate(377.2,439.2) scale(1.000,1)">6:03 am</text>
<text transform="translate(416.8,416.0) scale(1.000,1)">0.03 m</text>
<text transform="translate(416.8,425.9) scale(1.000,1)">0.1 ft</text>
<text transform="translate(416.8,434.8) scale(1.000,1)">6:28 pm</text>
<text transform="translate(456.1,416.8) scale(1.000,1)">0.02 m</text>
<text transform="translate(456.1,426.7) scale(1.000,1)">0.1 ft</text>
<text transform="translate(456.1,435.6) scale(1.000,1)">6:49 am</text>
<text transform="translate(495.8,411.6) scale(1.000,1)">0.08 m</text>
<text transform="translate(495.8,421.5) scale(1.000,1)">0.3 ft</text>
<text transform="translate(495.8,430.4) scale(1.000,1)">7:16 pm</text>
<text transform="translate(535.2,408.1) scale(1.000,1)">0.12 m</text>
<text transform="translate(535.2,418.0) scale(1.000,1)">0.4 ft</text>
<text transform="translate(535.2,426.9) scale(1.000,1)">7:37 am</text>
<text transform="translate(575.0,401.9) scale(1.000,1)">0.19 m</text>
<text transform="translate(575.0,411.8) scale(1.000,1)">0.6 ft</text>
<text transform="translate(575.0,420.7) scale(1.000,1)">8:07 pm</text>
<text transform="translate(614.4,395.8) scale(1.000,1)">0.26 m</text>
<text transform="translate(614.4,405.7) scale(1.000,1)">0.9 ft</text>
<text transform="translate(614.4,414.6) scale(1.000,1)">8:29 am</text>
<text transform="translate(654.5,390.5) scale(1.000,1)">0.32 m</text>
<text transform="translate(654.5,400.4) scale(1.000,1)">1.0 ft</text>
<text transform="translate(654.5,409.3) scale(1.000,1)">9:04 pm</text>
<text transform="translate(694.0,381.8) scale(1.000,1)">0.42 m</text>
<text transform="translate(694.0,391.7) scale(1.000,1)">1.4 ft</text>
<text transform="translate(694.0,400.6) scale(1.000,1)">9:27 am</text>
</g>
<circle cx="397.6" cy="118.6" r="5.3" fill="#d6d634" stroke="#a4a428" stroke-width="0.8"/>
<g fill="#000">
<circle cx="121.2" cy="144.8" r="1.8"/>
<circle cx="160.8" cy="139.5" r="1.8"/>
<circle cx="200.0" cy="133.4" r="1.8"/>
<circle cx="239.5" cy="128.1" r="1.8"/>
<circle cx="278.7" cy="125.5" r="1.8"/>
<circle cx="318.2" cy="120.2" r="1.8"/>
<circle cx="357.5" cy="122.9" r="1.8"/>
<circle cx="397.1" cy="118.5" r="1.8"/>
<circle cx="436.4" cy="125.5" r="1.8"/>
<circle cx="476.0" cy="121.1" r="1.8"/>
<circle cx="515.5" cy="133.4" r="1.8"/>
<circle cx="555.1" cy="129.0" r="1.8"/>
<circle cx="594.7" cy="145.7" r="1.8"/>
<circle cx="634.5" cy="139.5" r="1.8"/>
<circle cx="674.3" cy="158.8" r="1.8"/>
<circle cx="101.6" cy="374.6" r="1.8"/>
<circle cx="141.0" cy="390.4" r="1.8"/>
<circle cx="180.4" cy="387.7" r="1.8"/>
<circle cx="219.7" cy="401.8" r="1.8"/>
<circle cx="259.1" cy="398.3" r="1.8"/>
<circle cx="298.5" cy="407.9" r="1.8"/>
<circle cx="337.9" cy="404.4" r="1.8"/>
<circle cx="377.2" cy="409.7" r="1.8"/>
<circle cx="416.8" cy="405.3" r="1.8"/>
<circle cx="456.1" cy="406.1" r="1.8"/>
<circle cx="495.8" cy="400.9" r="1.8"/>
<circle cx="535.2" cy="397.4" r="1.8"/>
<circle cx="575.0" cy="391.2" r="1.8"/>
<circle cx="614.4" cy="385.1" r="1.8"/>
<circle cx="654.5" cy="379.8" r="1.8"/>
<circle cx="694.0" cy="371.1" r="1.8"/>
</g>
<g font-size="11" fill="#000">
<text x="45.8" y="479.9" text-anchor="end">Sunrise</text>
<text x="746.5" y="479.9">Sunrise</text>
<text x="45.8" y="493.8" text-anchor="end">Sunset</text>
<text x="746.5" y="493.8">Sunset</text>
<text x="45.8" y="507.0" text-anchor="end">Moonrise</text>
<text x="746.5" y="507.0">Moonrise</text>
<text x="45.8" y="520.8" text-anchor="end">Moonset</text>
<text x="746.5" y="520.8">Moonset</text>
</g>
<g font-size="10.2" fill="#000" style="text-rendering:geometricPrecision">
<polygon points="70.97,468.80 72.74,473.37 77.63,473.64 73.83,476.73 75.09,481.46 70.97,478.80 66.86,481.46 68.12,476.73 64.31,473.64 69.21,473.37" fill="#8a8a20"/><polygon points="70.97,471.30 75.25,474.41 73.62,479.44 68.33,479.44 66.69,474.41" fill="#d8d840" stroke="#8a8a20" stroke-width="0.9" stroke-linejoin="round"/>
<text transform="translate(78.0,479.9) scale(0.92,1)">5:59am</text>
<polygon points="147.42,468.80 149.18,473.37 154.08,473.64 150.27,476.73 151.53,481.46 147.42,478.80 143.30,481.46 144.57,476.73 140.76,473.64 145.66,473.37" fill="#8a8a20"/><polygon points="147.42,471.30 151.70,474.41 150.06,479.44 144.77,479.44 143.14,474.41" fill="#d8d840" stroke="#8a8a20" stroke-width="0.9" stroke-linejoin="round"/>
<text transform="translate(154.4,479.9) scale(0.92,1)">5:58am</text>
<polygon points="223.92,468.80 225.68,473.37 230.58,473.64 226.77,476.73 228.03,481.46 223.92,478.80 219.80,481.46 221.07,476.73 217.26,473.64 222.16,473.37" fill="#8a8a20"/><polygon points="223.92,471.30 228.20,474.41 226.56,479.44 221.27,479.44 219.64,474.41" fill="#d8d840" stroke="#8a8a20" stroke-width="0.9" stroke-linejoin="round"/>
<text transform="translate(230.9,479.9) scale(0.92,1)">5:58am</text>
<polygon points="300.37,468.80 302.13,473.37 307.02,473.64 303.22,476.73 304.48,481.46 300.37,478.80 296.25,481.46 297.51,476.73 293.71,473.64 298.60,473.37" fill="#8a8a20"/><polygon points="300.37,471.30 304.65,474.41 303.01,479.44 297.72,479.44 296.09,474.41" fill="#d8d840" stroke="#8a8a20" stroke-width="0.9" stroke-linejoin="round"/>
<text transform="translate(307.4,479.9) scale(0.92,1)">5:57am</text>
<polygon points="376.87,468.80 378.63,473.37 383.52,473.64 379.72,476.73 380.98,481.46 376.87,478.80 372.75,481.46 374.01,476.73 370.21,473.64 375.10,473.37" fill="#8a8a20"/><polygon points="376.87,471.30 381.15,474.41 379.51,479.44 374.22,479.44 372.59,474.41" fill="#d8d840" stroke="#8a8a20" stroke-width="0.9" stroke-linejoin="round"/>
<text transform="translate(383.9,479.9) scale(0.92,1)">5:57am</text>
<polygon points="453.31,468.80 455.08,473.37 459.97,473.64 456.17,476.73 457.43,481.46 453.31,478.80 449.20,481.46 450.46,476.73 446.66,473.64 451.55,473.37" fill="#8a8a20"/><polygon points="453.31,471.30 457.59,474.41 455.96,479.44 450.67,479.44 449.03,474.41" fill="#d8d840" stroke="#8a8a20" stroke-width="0.9" stroke-linejoin="round"/>
<text transform="translate(460.3,479.9) scale(0.92,1)">5:56am</text>
<polygon points="529.81,468.80 531.58,473.37 536.47,473.64 532.67,476.73 533.93,481.46 529.81,478.80 525.70,481.46 526.96,476.73 523.16,473.64 528.05,473.37" fill="#8a8a20"/><polygon points="529.81,471.30 534.09,474.41 532.46,479.44 527.17,479.44 525.53,474.41" fill="#d8d840" stroke="#8a8a20" stroke-width="0.9" stroke-linejoin="round"/>
<text transform="translate(536.8,479.9) scale(0.92,1)">5:56am</text>
<polygon points="606.26,468.80 608.02,473.37 612.92,473.64 609.11,476.73 610.37,481.46 606.26,478.80 602.14,481.46 603.41,476.73 599.60,473.64 604.50,473.37" fill="#8a8a20"/><polygon points="606.26,471.30 610.54,474.41 608.90,479.44 603.61,479.44 601.98,474.41" fill="#d8d840" stroke="#8a8a20" stroke-width="0.9" stroke-linejoin="round"/>
<text transform="translate(613.3,479.9) scale(0.92,1)">5:55am</text>
<polygon points="682.76,468.80 684.52,473.37 689.42,473.64 685.61,476.73 686.87,481.46 682.76,478.80 678.64,481.46 679.91,476.73 676.10,473.64 681.00,473.37" fill="#8a8a20"/><polygon points="682.76,471.30 687.04,474.41 685.40,479.44 680.11,479.44 678.48,474.41" fill="#d8d840" stroke="#8a8a20" stroke-width="0.9" stroke-linejoin="round"/>
<text transform="translate(689.8,479.9) scale(0.92,1)">5:55am</text>
<polygon points="40.85,482.40 42.61,486.97 47.51,487.24 43.70,490.33 44.96,495.06 40.85,492.40 36.74,495.06 38.00,490.33 34.19,487.24 39.09,486.97" fill="#84801e"/><polygon points="40.85,484.90 45.13,488.01 43.50,493.04 38.20,493.04 36.57,488.01" fill="#dc5c2c" stroke="#94501e" stroke-width="0.9" stroke-linejoin="round"/>
<text transform="translate(47.9,493.9) scale(0.92,1)">8:32pm</text>
<polygon points="117.40,482.40 119.17,486.97 124.06,487.24 120.26,490.33 121.52,495.06 117.40,492.40 113.29,495.06 114.55,490.33 110.75,487.24 115.64,486.97" fill="#84801e"/><polygon points="117.40,484.90 121.68,488.01 120.05,493.04 114.76,493.04 113.12,488.01" fill="#dc5c2c" stroke="#94501e" stroke-width="0.9" stroke-linejoin="round"/>
<text transform="translate(124.4,493.9) scale(0.92,1)">8:33pm</text>
<polygon points="193.96,482.40 195.72,486.97 200.61,487.24 196.81,490.33 198.07,495.06 193.96,492.40 189.84,495.06 191.10,490.33 187.30,487.24 192.19,486.97" fill="#84801e"/><polygon points="193.96,484.90 198.24,488.01 196.60,493.04 191.31,493.04 189.68,488.01" fill="#dc5c2c" stroke="#94501e" stroke-width="0.9" stroke-linejoin="round"/>
<text transform="translate(201.0,493.9) scale(0.92,1)">8:34pm</text>
<polygon points="270.51,482.40 272.27,486.97 277.17,487.24 273.36,490.33 274.62,495.06 270.51,492.40 266.39,495.06 267.66,490.33 263.85,487.24 268.75,486.97" fill="#84801e"/><polygon points="270.51,484.90 274.79,488.01 273.15,493.04 267.86,493.04 266.23,488.01" fill="#dc5c2c" stroke="#94501e" stroke-width="0.9" stroke-linejoin="round"/>
<text transform="translate(277.5,493.9) scale(0.92,1)">8:35pm</text>
<polygon points="347.06,482.40 348.83,486.97 353.72,487.24 349.92,490.33 351.18,495.06 347.06,492.40 342.95,495.06 344.21,490.33 340.41,487.24 345.30,486.97" fill="#84801e"/><polygon points="347.06,484.90 351.34,488.01 349.71,493.04 344.42,493.04 342.78,488.01" fill="#dc5c2c" stroke="#94501e" stroke-width="0.9" stroke-linejoin="round"/>
<text transform="translate(354.1,493.9) scale(0.92,1)">8:36pm</text>
<polygon points="423.67,482.40 425.43,486.97 430.33,487.24 426.52,490.33 427.78,495.06 423.67,492.40 419.55,495.06 420.82,490.33 417.01,487.24 421.91,486.97" fill="#84801e"/><polygon points="423.67,484.90 427.95,488.01 426.31,493.04 421.02,493.04 419.39,488.01" fill="#dc5c2c" stroke="#94501e" stroke-width="0.9" stroke-linejoin="round"/>
<text transform="translate(430.7,493.9) scale(0.92,1)">8:38pm</text>
<polygon points="500.22,482.40 501.99,486.97 506.88,487.24 503.08,490.33 504.34,495.06 500.22,492.40 496.11,495.06 497.37,490.33 493.56,487.24 498.46,486.97" fill="#84801e"/><polygon points="500.22,484.90 504.50,488.01 502.87,493.04 497.58,493.04 495.94,488.01" fill="#dc5c2c" stroke="#94501e" stroke-width="0.9" stroke-linejoin="round"/>
<text transform="translate(507.2,493.9) scale(0.92,1)">8:39pm</text>
<polygon points="576.77,482.40 578.54,486.97 583.43,487.24 579.63,490.33 580.89,495.06 576.77,492.40 572.66,495.06 573.92,490.33 570.12,487.24 575.01,486.97" fill="#84801e"/><polygon points="576.77,484.90 581.05,488.01 579.42,493.04 574.13,493.04 572.50,488.01" fill="#dc5c2c" stroke="#94501e" stroke-width="0.9" stroke-linejoin="round"/>
<text transform="translate(583.8,493.9) scale(0.92,1)">8:40pm</text>
<polygon points="653.33,482.40 655.09,486.97 659.99,487.24 656.18,490.33 657.44,495.06 653.33,492.40 649.21,495.06 650.47,490.33 646.67,487.24 651.56,486.97" fill="#84801e"/><polygon points="653.33,484.90 657.61,488.01 655.97,493.04 650.68,493.04 649.05,488.01" fill="#dc5c2c" stroke="#94501e" stroke-width="0.9" stroke-linejoin="round"/>
<text transform="translate(660.3,493.9) scale(0.92,1)">8:41pm</text>
<circle cx="109.6" cy="503.1" r="5.1" fill="#ffffcc" stroke="#808080" stroke-width="1"/>
<text transform="translate(116.8,507.9) scale(0.92,1)">6:07pm</text>
<circle cx="189.7" cy="503.1" r="5.1" fill="#ffffcc" stroke="#808080" stroke-width="1"/>
<text transform="translate(196.9,507.9) scale(0.92,1)">7:14pm</text>
<circle cx="269.8" cy="503.1" r="5.1" fill="#ffffcc" stroke="#808080" stroke-width="1"/>
<text transform="translate(277.0,507.9) scale(0.92,1)">8:22pm</text>
<circle cx="350.0" cy="503.1" r="5.1" fill="#ffffcc" stroke="#808080" stroke-width="1"/>
<text transform="translate(357.2,507.9) scale(0.92,1)">9:31pm</text>
<circle cx="430.0" cy="503.1" r="5.1" fill="#ffffcc" stroke="#808080" stroke-width="1"/>
<text transform="translate(437.2,507.9) scale(0.92,1)">10:38pm</text>
<circle cx="509.8" cy="503.1" r="5.1" fill="#ffffcc" stroke="#808080" stroke-width="1"/>
<text transform="translate(517.0,507.9) scale(0.92,1)">11:40pm</text>
<circle cx="589.2" cy="503.1" r="5.1" fill="#ffffcc" stroke="#808080" stroke-width="1"/>
<text transform="translate(596.4,507.9) scale(0.92,1)">12:34am</text>
<circle cx="668.2" cy="503.1" r="5.1" fill="#ffffcc" stroke="#808080" stroke-width="1"/>
<text transform="translate(675.4,507.9) scale(0.92,1)">1:21am</text>
<circle cx="67.6" cy="516.4" r="5.1" fill="#c8c8b4" stroke="#707070" stroke-width="1"/>
<text transform="translate(74.6,520.5) scale(0.92,1)">4:56am</text>
<circle cx="145.8" cy="516.4" r="5.1" fill="#c8c8b4" stroke="#707070" stroke-width="1"/>
<text transform="translate(152.8,520.5) scale(0.92,1)">5:27am</text>
<circle cx="224.1" cy="516.4" r="5.1" fill="#c8c8b4" stroke="#707070" stroke-width="1"/>
<text transform="translate(231.1,520.5) scale(0.92,1)">6:02am</text>
<circle cx="302.8" cy="516.4" r="5.1" fill="#c8c8b4" stroke="#707070" stroke-width="1"/>
<text transform="translate(309.8,520.5) scale(0.92,1)">6:43am</text>
<circle cx="381.8" cy="516.4" r="5.1" fill="#c8c8b4" stroke="#707070" stroke-width="1"/>
<text transform="translate(388.8,520.5) scale(0.92,1)">7:30am</text>
<circle cx="461.3" cy="516.4" r="5.1" fill="#c8c8b4" stroke="#707070" stroke-width="1"/>
<text transform="translate(468.3,520.5) scale(0.92,1)">8:26am</text>
<circle cx="541.1" cy="516.4" r="5.1" fill="#c8c8b4" stroke="#707070" stroke-width="1"/>
<text transform="translate(548.1,520.5) scale(0.92,1)">9:28am</text>
<circle cx="621.1" cy="516.4" r="5.1" fill="#c8c8b4" stroke="#707070" stroke-width="1"/>
<text transform="translate(628.1,520.5) scale(0.92,1)">10:35am</text>
<text transform="translate(260.3,533.2) scale(0.945,1)" font-size="10" text-anchor="end">Full Moon</text>
<text x="263.9" y="534.6" font-size="10" text-anchor="middle" fill="#444">|</text>
<text transform="translate(267.7,534.3) scale(0.92,1)">6:39pm</text>
</g>
</g>
</svg></body></html>
